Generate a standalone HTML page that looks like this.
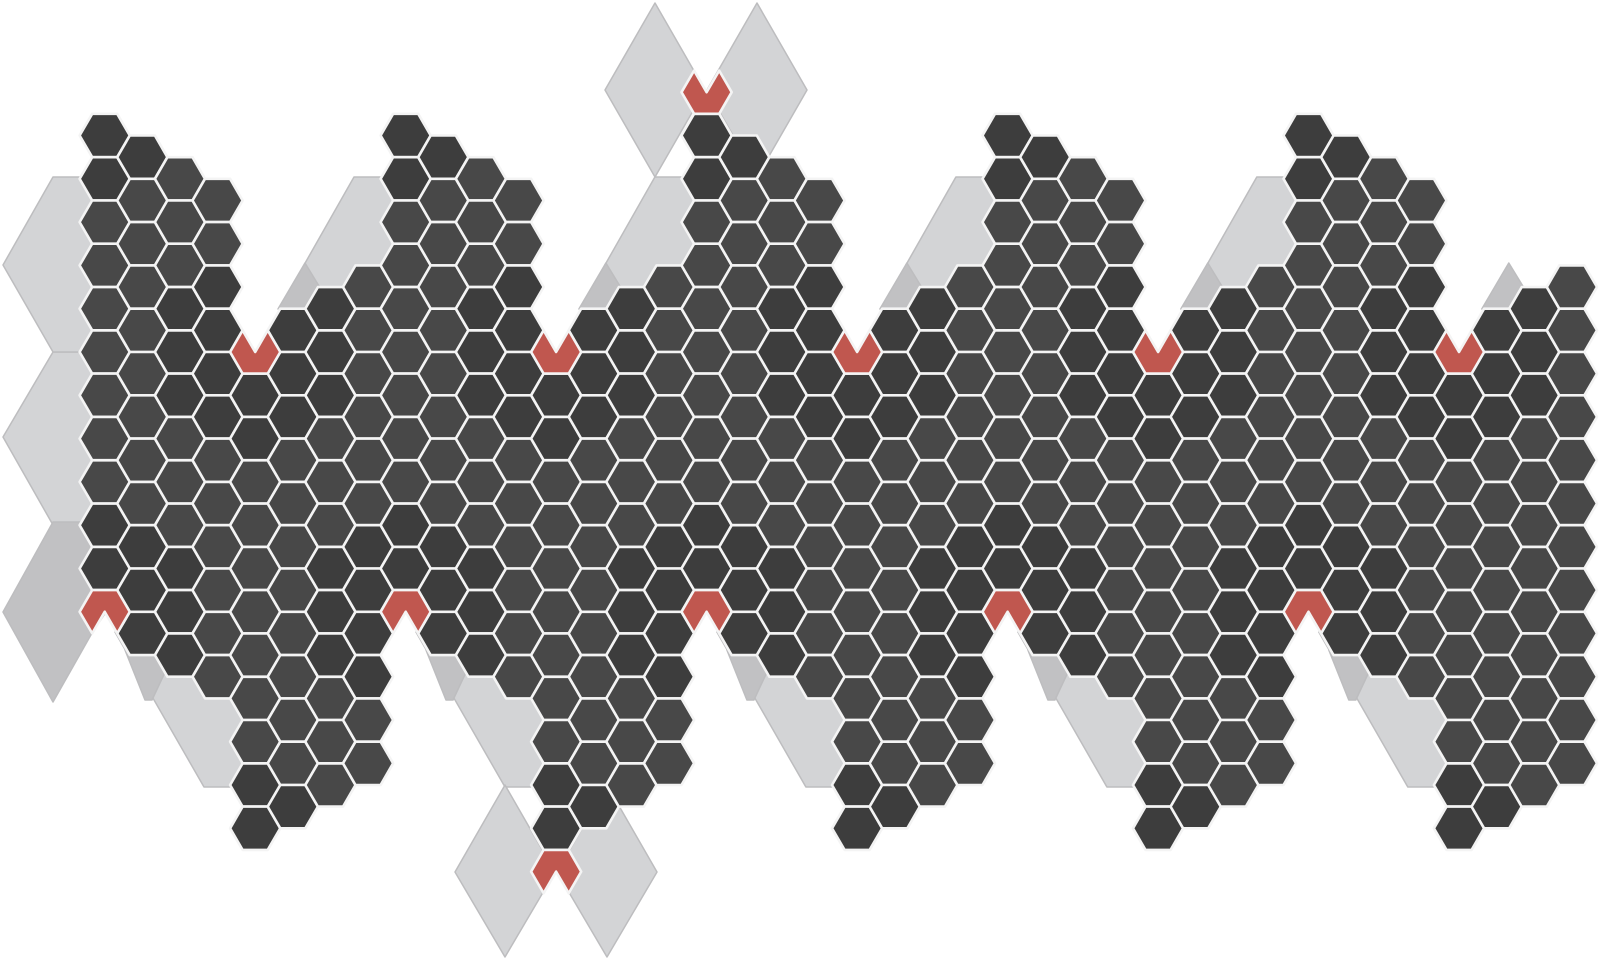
<!DOCTYPE html>
<html><head><meta charset="utf-8"><style>
html,body{margin:0;padding:0;background:#fff;}
svg{display:block;}
</style></head>
<body>
<svg id="net" width="1600" height="964" viewBox="0 0 1600 964" xmlns="http://www.w3.org/2000/svg">
<g id="bg"></g>
<g id="cells"></g>
</svg>
<script>
// column structure per period of 8 columns (index = col mod 8)
const colTop = [0, 0, 1, 1, 6, 4, 4, 3];
const colBottom = [10, 11, 12, 12, 16, 15, 15, 14];
const numCols = [40];
// pentagon cells: [col, row, notch] notch 1 = top cut, -1 = bottom cut
const pentTop = [[4,5],[12,5],[20,5],[28,5],[36,5],[16,-1]];
const pentBottom = [[0,11],[8,11],[16,11],[24,11],[32,11],[12,17]];
// virtual pole positions (not drawn) used for shading
const virtualPoles = [[0,-1],[8,-1],[24,-1],[32,-1],[40,-1],[-4,17],[4,17],[20,17],[28,17],[36,17]];

const X0=104.7, DX=37.62, Y0=135.5, DY=43.3, R=25.08, H=21.65, SH=8*37.62;
const NS='http://www.w3.org/2000/svg';
function xOf(c){return X0+DX*c;}
function yOf(c,r){return Y0+DY*r+((c&1)?H:0);}
function cube(c,r){const q=c;const rr=r-(c-(c&1))/2;return [q,rr,-q-rr];}
function dist(a,b){const A=cube(a[0],a[1]),B=cube(b[0],b[1]);return Math.max(Math.abs(A[0]-B[0]),Math.abs(A[1]-B[1]),Math.abs(A[2]-B[2]));}
const allPent=pentTop.concat(pentBottom,virtualPoles);
function pts(a){return a.map(p=>p[0].toFixed(1)+','+p[1].toFixed(1)).join(' ');}

const bg=document.getElementById('bg');
function poly(points,fill,name){
  const p=document.createElementNS(NS,'polygon');
  p.setAttribute('points',pts(points));
  p.setAttribute('fill',fill);
  p.setAttribute('stroke','#bdbdbf');
  p.setAttribute('stroke-width','1.5');
  p.setAttribute('stroke-linejoin','round');
  
  
  bg.appendChild(p);
}
const LIGHT='#d3d4d6', MID='#c1c1c3';
function sh(a,dx){return a.map(p=>[p[0]+dx,p[1]]);}
// left edge shapes
poly([[53,352],[106,352],[106,525],[53,525],[3,437]],LIGHT,'gray-face');
poly([[53,522],[106,522],[106,612],[92,633],[53,702],[3,612]],MID,'gray-face');
for(let p=0;p<5;p++){
  poly(sh([[53,177],[106,177],[106,352],[53,352],[3,265]],p*SH),LIGHT,'gray-face');
  poly(sh([[115,632],[247,632],[247,787],[204,787]],p*SH),LIGHT,'gray-face');
  poly(sh([[125,650],[157,650],[167,668],[152,700],[145,700]],p*SH),MID,'gray-face');
}
for(let p=1;p<6;p++){
  poly(sh([[4,263],[-23,309],[32,309]],p*SH),MID,'gray-face');
}
// pole rhombi
poly([[655,3],[705,90],[655,177],[605,90]],LIGHT,'gray-face');
poly([[757,3],[807,90],[757,177],[707,90]],LIGHT,'gray-face');
poly([[505,785],[555,872],[505,957],[455,872]],LIGHT,'gray-face');
poly([[607,785],[657,872],[607,957],[557,872]],LIGHT,'gray-face');

const cells=document.getElementById('cells');
function hexPoints(x,y){return [[x-R,y],[x-R/2,y-H],[x+R/2,y-H],[x+R,y],[x+R/2,y+H],[x-R/2,y+H]];}
function addCell(c,r){
  const x=xOf(c),y=yOf(c,r);
  let d=99;for(const q of allPent){d=Math.min(d,dist([c,r],q));}
  const el=document.createElementNS(NS,'polygon');
  el.setAttribute('points',pts(hexPoints(x,y)));
  el.setAttribute('fill',d<=2?'#3d3d3d':'#484848');
  el.setAttribute('stroke','#f4f4f4');
  el.setAttribute('stroke-width','2.6');
  el.setAttribute('stroke-linejoin','round');
  
  
  cells.appendChild(el);
}
function addPent(c,r,notch){
  const x=xOf(c),y=yOf(c,r);
  let a;
  if(notch>0) a=[[x-R,y],[x-R/2,y-H],[x,y],[x+R/2,y-H],[x+R,y],[x+R/2,y+H],[x-R/2,y+H]];
  else a=[[x-R,y],[x-R/2,y-H],[x+R/2,y-H],[x+R,y],[x+R/2,y+H],[x,y],[x-R/2,y+H]];
  const el=document.createElementNS(NS,'polygon');
  el.setAttribute('points',pts(a));
  el.setAttribute('fill','#c0574f');
  el.setAttribute('stroke','#f4f4f4');
  el.setAttribute('stroke-width','2.6');
  el.setAttribute('stroke-linejoin','round');
  
  
  cells.appendChild(el);
}
for(let c=0;c<numCols[0];c++){
  const j=c%8;
  for(let r=colTop[j];r<=colBottom[j];r++) addCell(c,r);
}
for(const p of pentTop) addPent(p[0],p[1],1);
for(const p of pentBottom) addPent(p[0],p[1],-1);
</script>
</body></html>
